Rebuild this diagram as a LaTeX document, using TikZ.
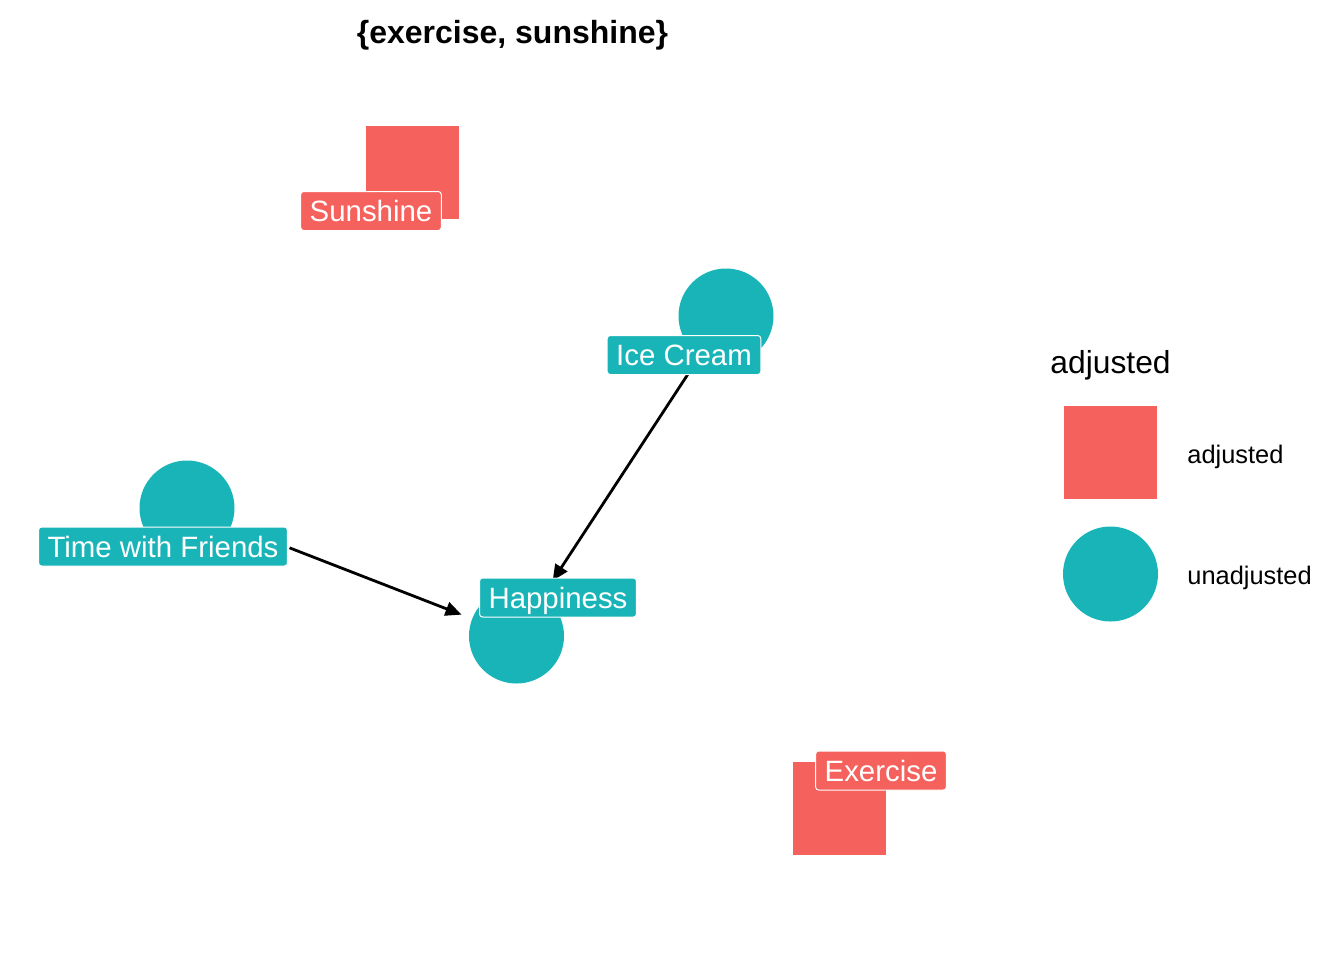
\documentclass[tikz,border=0pt]{standalone}
\usepackage{fontspec}
\setmainfont{Liberation Sans}
\usetikzlibrary{arrows.meta,calc,positioning}
\definecolor{adjred}{RGB}{245,97,92}
\definecolor{unadjteal}{RGB}{25,180,184}

\begin{document}
\begin{tikzpicture}[x=0.5pt,y=-0.5pt,
  adjnode/.style={rectangle,fill=adjred,minimum size=46.5pt,inner sep=0pt},
  unadjnode/.style={circle,fill=unadjteal,minimum size=47.5pt,inner sep=0pt},
  varlabel/.style={draw=white,line width=0.5pt,rounded corners=1.5pt,text=white,
    font=\fontsize{14.7}{17}\selectfont,inner xsep=4.5pt,inner ysep=0pt,
    minimum height=19.5pt,text height=10.6pt,text depth=0pt},
  legtext/.style={anchor=base west,inner sep=0pt,font=\fontsize{12.7}{15}\selectfont},
  dagedge/.style={line width=1.4pt,-{Triangle[length=8pt,width=7pt]}}]
  \useasboundingbox (0,0) rectangle (1344,960);

  % titel
  \node[font=\bfseries\fontsize{16}{19}\selectfont,anchor=base] (title) at (512.5,43) {\{exercise, sunshine\}};

  % variabler
  \node[adjnode] (sunshine) at (412.5,172.5) {};
  \node[unadjnode] (icecream) at (726,316) {};
  \node[unadjnode] (friends) at (187,508) {};
  \node[unadjnode] (happiness) at (516.5,636) {};
  \node[adjnode] (exercise) at (839,808.5) {};

  % piler
  \draw[dagedge,shorten <=34.5pt,shorten >=33pt] (icecream.center) -- (happiness.center);
  \draw[dagedge,shorten <=55pt,shorten >=29.5pt] (friends.center) -- (happiness.center);

  % etiketter
  \node[varlabel,fill=adjred] (sunshinelabel) at (371,211) {Sunshine};
  \node[varlabel,fill=unadjteal] (icecreamlabel) at (684,355) {Ice Cream};
  \node[varlabel,fill=unadjteal] (friendslabel) at (163,546.5) {Time with Friends};
  \node[varlabel,fill=unadjteal] (happinesslabel) at (558,597.5) {Happiness};
  \node[varlabel,fill=adjred] (exerciselabel) at (881,770.5) {Exercise};

  % forklaring
  \node[legtext,font=\fontsize{15.9}{18}\selectfont] (legtitle) at (1050,373) {adjusted};
  \node[adjnode] (legadj) at (1110.5,452.5) {};
  \node[unadjnode] (legunadj) at (1110.5,574) {};
  \node[legtext] (legadjtext) at (1187,463) {adjusted};
  \node[legtext] (legunadjtext) at (1187,584) {unadjusted};
\end{tikzpicture}
\end{document}
